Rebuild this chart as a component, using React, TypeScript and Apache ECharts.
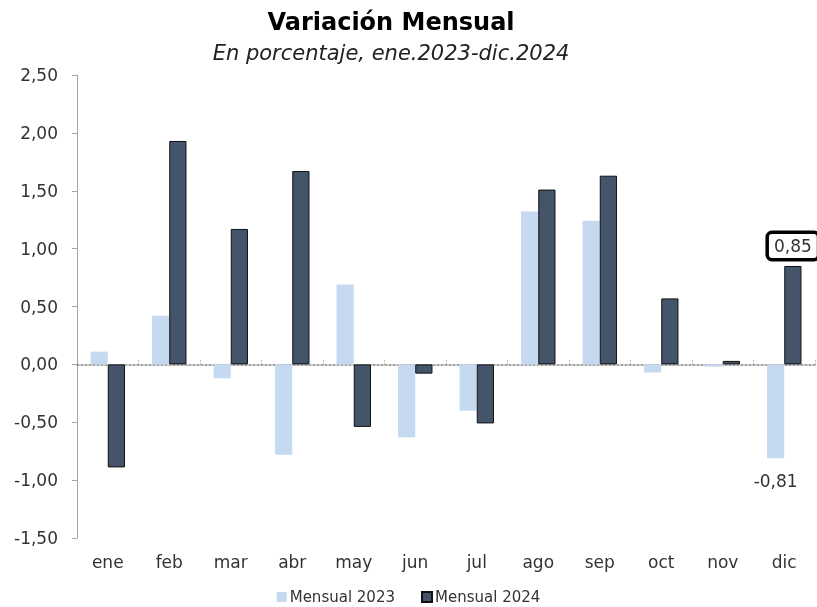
import React, { useEffect, useRef } from "react";
import * as echarts from "echarts";

const categories = ["ene", "feb", "mar", "abr", "may", "jun", "jul", "ago", "sep", "oct", "nov", "dic"];
const mensual2023 = [0.11, 0.42, -0.12, -0.78, 0.69, -0.63, -0.4, 1.32, 1.24, -0.07, -0.02, -0.81];
const mensual2024 = [-0.89, 1.93, 1.17, 1.67, -0.54, -0.08, -0.51, 1.51, 1.63, 0.57, 0.03, 0.85];
const seriesNames = ["Mensual 2023", "Mensual 2024"];
const titleText = "Variación Mensual";
const subtitleText = "En porcentaje, ene.2023-dic.2024";

const FONT = "'DejaVu Sans', sans-serif";
const fmt = (v: number) => v.toFixed(2).replace(".", ",");

export default function App() {
  const ref = useRef<HTMLDivElement>(null);
  useEffect(() => {
    if (!ref.current) return;
    const chart = echarts.init(ref.current, null, { renderer: "svg" });
    const last = categories.length - 1;
    chart.setOption({
      animation: false,
      textStyle: { fontFamily: FONT },
      title: {
        text: titleText,
        subtext: subtitleText,
        left: 386,
        textAlign: "center",
        top: 5,
        itemGap: 8,
        textStyle: { fontSize: 24, fontWeight: "bold", color: "#000", fontFamily: FONT },
        subtextStyle: { fontSize: 21, fontStyle: "italic", color: "#222", fontFamily: FONT },
      },
      legend: {
        top: 584,
        left: "center",
        itemWidth: 10,
        itemHeight: 10,
        itemGap: 26,
        icon: "rect",
        textStyle: { fontSize: 15, lineHeight: 16, color: "#333", fontFamily: FONT, padding: [0, 0, 0, -2] },
        data: seriesNames,
      },
      grid: { left: 77, right: 2, top: 75, bottom: 69, containLabel: false },
      xAxis: [
        {
          type: "category",
          data: categories,
          position: "bottom",
          axisLine: { show: false, onZero: false },
          axisTick: { show: false },
          axisLabel: { fontSize: 17, color: "#333", margin: 15, fontFamily: FONT },
        },
        {
          type: "category",
          data: categories,
          position: "bottom",
          axisLine: { show: true, onZero: true, lineStyle: { color: "#888", type: [2, 2], width: 1.5 } },
          axisTick: { show: true, inside: true, length: 5, lineStyle: { color: "#888", type: [1, 2] } },
          axisLabel: { show: false },
        },
      ],
      yAxis: {
        type: "value",
        min: -1.5,
        max: 2.5,
        interval: 0.5,
        axisLine: { show: true, lineStyle: { color: "#a6a6a6" } },
        axisTick: { show: true, length: 5, lineStyle: { color: "#a6a6a6" } },
        splitLine: { show: false },
        axisLabel: { fontSize: 17, color: "#333", margin: 19, formatter: (v: number) => fmt(v), fontFamily: FONT },
      },
      series: [
        {
          name: seriesNames[0],
          type: "bar",
          barWidth: "28%",
          barGap: "0%",
          itemStyle: { color: "#c5d9f1" },
          data: mensual2023.map((v, i) =>
            i === last
              ? {
                  value: v,
                  label: {
                    show: true,
                    position: "bottom",
                    distance: 14,
                    formatter: fmt(v),
                    fontSize: 17,
                    color: "#333",
                    fontFamily: FONT,
                  },
                }
              : v
          ),
        },
        {
          name: seriesNames[1],
          type: "bar",
          barWidth: "28%",
          barGap: "0%",
          itemStyle: { color: "#44546a", borderColor: "#111", borderWidth: 1 },
          data: mensual2024.map((v, i) =>
            i === last
              ? {
                  value: v,
                  label: {
                    show: true,
                    position: "top",
                    distance: 8,
                    formatter: fmt(v),
                    fontSize: 17,
                    color: "#333",
                    fontFamily: FONT,
                    backgroundColor: "#fff",
                    borderColor: "#000",
                    borderWidth: 3.5,
                    borderRadius: 3,
                    padding: [4, 5, 3, 5],
                  },
                }
              : v
          ),
        },
      ],
    });
    return () => chart.dispose();
  }, []);
  return <div ref={ref} style={{ position: "fixed", left: 0, top: 0, width: 817, height: 607 }} />;
}
